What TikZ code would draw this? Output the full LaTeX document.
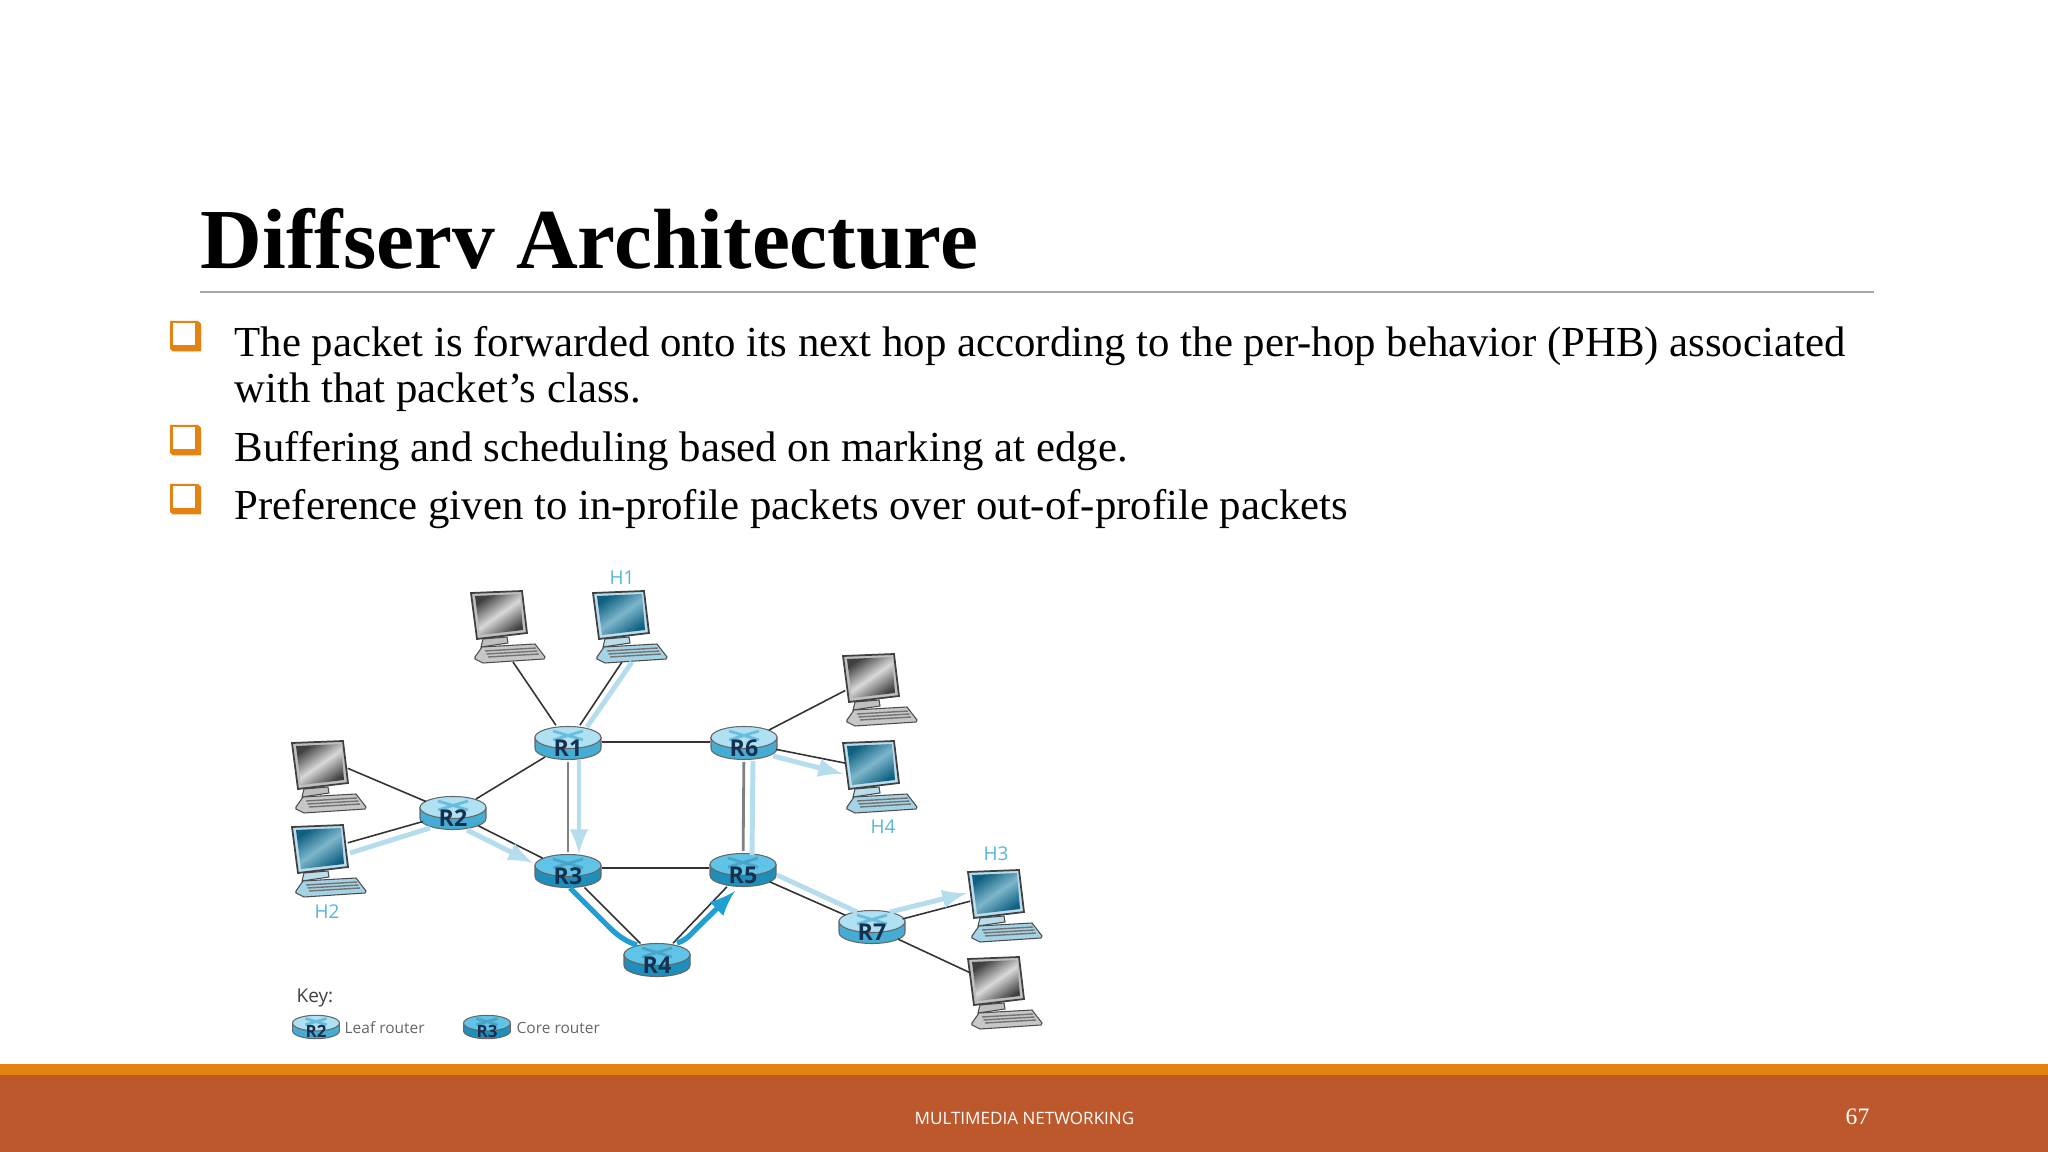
\documentclass[tikz,border=0pt]{standalone}
\usepackage{fontspec}
\setmainfont{Liberation Serif}
\newfontfamily\netfont{Open Sans}
\usetikzlibrary{positioning}
\usetikzlibrary{arrows,shapes}
\usetikzlibrary{calc}

\definecolor{barorange}{HTML}{E48312}
\definecolor{barrust}{HTML}{BD582C}
\definecolor{hostblue}{HTML}{55B4DC}
\definecolor{flowlight}{HTML}{B5DDEE}
\definecolor{flowdark}{HTML}{1F9FD3}
\definecolor{labelnavy}{HTML}{16304F}
\definecolor{leaftop}{HTML}{B0E1F3}
\definecolor{leafside}{HTML}{45ADD4}
\definecolor{coretop}{HTML}{5FC4E8}
\definecolor{coreside}{HTML}{1E8FBB}
\definecolor{bezblue}{HTML}{B9DDEC}
\definecolor{kbdblue}{HTML}{A5D3E6}
\definecolor{scrblue}{HTML}{0F5F80}
\definecolor{scrbluelt}{HTML}{7DB6CC}

\tikzset{
 body/.style={anchor=base west, inner sep=0pt, font=\fontsize{12.17}{14}\selectfont},
 link/.style={draw=black!80, line width=0.45pt},
 linkgray/.style={draw=black!50, line width=0.8pt},
 flow/.style={draw=flowlight, line width=1.4pt},
 flowcore/.style={draw=flowdark, line width=1.5pt},
 hostlabel/.style={inner sep=0pt, text=hostblue, font=\netfont\fontsize{5.4}{6}\selectfont},
 keytext/.style={anchor=base west, inner sep=0pt, text=black!60, font=\netfont\fontsize{4.4}{5}\selectfont},
 routerlabel/.style={ellipse, inner sep=0pt, text=labelnavy}
}

\begin{document}
\begin{tikzpicture}[x=0.01cm, y=-0.01cm]
 \useasboundingbox (0,0) rectangle (2048,1152);

 %title
 \node[body, font=\bfseries\fontsize{24.3}{28}\selectfont] (title) at (200,269) {Diffserv Architecture};
 \coordinate (ruleL) at (200,292);
 \coordinate (ruleR) at (1874,292);
 \draw[black!35, line width=0.5pt] (ruleL) -- (ruleR);

 %bullets
 \foreach \y in {321,425,484} {
   \fill[barorange] (170,\y) -- (198,\y) -- (201,\y+3) -- (201,\y+30.5) -- (173,\y+30.5) -- (170,\y+28) -- cycle;
   \fill[white] (172.5,\y+2.5) rectangle (195,\y+24.5);
 }
 \node[body] (line1) at (234,356.5) {The packet is forwarded onto its next hop according to the per-hop behavior (PHB) associated};
 \node[body] (line2) at (234,402.5) {with that packet’s class.};
 \node[body] (line3) at (234,461.5) {Buffering and scheduling based on marking at edge.};
 \node[body] (line4) at (234,519.5) {Preference given to in-profile packets over out-of-profile packets};

 %routers
 \foreach \name/\lab/\top/\side/\x/\y/\sc/\fs/\th in {
     R1/R1/leaftop/leafside/568/743/1/6.6/0.26, R2/R2/leaftop/leafside/453/813/1/6.6/0.26,
     R3/R3/coretop/coreside/568/871/1/6.6/0.26, R4/R4/coretop/coreside/657/960/1/6.6/0.26,
     R5/R5/coretop/coreside/743/870/1/6.6/0.26, R6/R6/leaftop/leafside/744/743/1/6.6/0.26,
     R7/R7/leaftop/leafside/872/927/1/6.6/0.26,
     keyR2/R2/leaftop/leafside/316/1027/0.71/4.8/0.2, keyR3/R3/coretop/coreside/487/1027/0.71/4.8/0.2} {
   \begin{scope}[shift={(\x,\y)}, scale=\sc]
     \shade[left color=\side, middle color=\top!60!white, right color=\side, draw=black!60, line width=0.3pt]
       (-33,-5.5) -- (-33,5.5) arc [start angle=180, end angle=0, x radius=33, y radius=11] -- (33,-5.5) -- cycle;
     \draw[fill=\top, draw=black!60, line width=0.3pt] (0,-5.5) ellipse [x radius=33, y radius=11];
     \draw[\side!80, line width=0.8pt] (-15,-12) -- (15,-3) (15,-12) -- (-15,-3);
   \end{scope}
   \node[routerlabel, minimum width=0.66*\sc cm, minimum height=0.34*\sc cm, text height=\th cm, text depth=0pt, font=\netfont\bfseries\fontsize{\fs}{7}\selectfont] (\name) at (\x,\y) {\lab};
 }

 %hosts
 \foreach \name/\x/\y/\bez/\kbd/\scra/\scrb in {
     C1/500/615/black!25/black!22/black!75/black!15,
     H1/622/615/bezblue/kbdblue/scrblue/scrbluelt,
     C2/321/765/black!25/black!22/black!75/black!15,
     H2/321/849/bezblue/kbdblue/scrblue/scrbluelt,
     C3/872/678/black!25/black!22/black!75/black!15,
     H4/872/765/bezblue/kbdblue/scrblue/scrbluelt,
     H3/997/894/bezblue/kbdblue/scrblue/scrbluelt,
     C4/997/981/black!25/black!22/black!75/black!15} {
   \begin{scope}[shift={(\x,\y)}]
     \draw[black!70, line width=0.3pt, fill=\bez] (-17,24) -- (7,22) -- (8,28) -- (-19,32) -- cycle;
     \draw[black!70, line width=0.3pt, fill=\kbd] (-18,32) -- (35,29) -- (45,42) -- (44,44) -- (-17,48) -- (-25,44) -- (-25,42) -- cycle;
     \foreach \k in {0,1,2} \draw[black!55, line width=0.4pt] (-15+\k*1.5,36+\k*3) -- (36+\k*1.5,33+\k*3);
     \draw[black!75, line width=0.5pt, fill=\bez] (-29,-22) -- (22,-24) -- (27,18) -- (-23,24) -- cycle;
     \shade[left color=\scra, right color=\scra, middle color=\scrb, shading angle=35]
       (-25,-19) -- (20,-21) -- (23,15) -- (-20,20) -- cycle;
   \end{scope}
   \node[minimum width=0.52cm, minimum height=0.44cm, inner sep=0pt] (\name) at (\x,\y) {};
 }
 \coordinate (C1kb) at (513,662);
 \coordinate (H1kb) at (622,662);
 \coordinate (H1flow) at (632,662);

 %links
 \draw[link] (C1kb) -- (R1);
 \draw[link] (H1kb) -- (R1);
 \draw[link] (C2.-7) -- (R2);
 \draw[link] (H2.13) -- (R2);
 \draw[link] (R2) -- (R1);
 \draw[link] (R2) -- (R3);
 \draw[link] ([shift={(0,-1)}]R1.east) -- ([shift={(0,-1)}]R6.west);
 \draw[link] ([shift={(0,-3)}]R3.east) -- ([shift={(0,-2)}]R5.west);
 \draw[linkgray] (R1) -- (R3);
 \draw[linkgray] (R6) -- (R5);
 \draw[link] (R3) -- (R4);
 \draw[link] (R4) -- (R5);
 \draw[link] (R5) -- (R7);
 \draw[link] (R6) -- (C3.205);
 \draw[link] (R6) -- (H4.176);
 \draw[link] (R7) -- (H3.195);
 \draw[link] (R7) -- (C4.163);

 %flow arrows
 \draw[flow] (H1flow) -- ([shift={(19,-16)}]R1.center);
 \draw[flow, -latex] ([shift={(11,17)}]R1.center) -- ([shift={(11,-17)}]R3.center);
 \draw[flow] ([shift={(29,4)}]H2.center) -- ([shift={(-23,15)}]R2.center);
 \draw[flow, -latex] ([shift={(14,17)}]R2.center) -- ([shift={(-35,-8)}]R3.center);
 \draw[flowcore] ([shift={(2,17)}]R3.center) -- ([shift={(42,57)}]R3.center)
    .. controls ([shift={(-37,-22)}]R4.center) and ([shift={(-27,-17)}]R4.center) .. ([shift={(-20,-15)}]R4.center);
 \draw[flowcore, -latex] ([shift={(20,-17)}]R4.center)
    .. controls ([shift={(30,-20)}]R4.center) and ([shift={(35,-27)}]R4.center) .. ([shift={(41,-33)}]R4.center)
    -- ([shift={(-8,21)}]R5.center);
 \draw[flow] ([shift={(9,-15)}]R5.center) -- ([shift={(9,18)}]R6.center);
 \draw[flow, -latex] ([shift={(29,13)}]R6.center) -- ([shift={(-29,9)}]H4.center);
 \draw[flow] ([shift={(34,5)}]R5.center) -- ([shift={(-15,-15)}]R7.center);
 \draw[flow, -latex] ([shift={(18,-15)}]R7.center) -- ([shift={(-30,-1)}]H3.center);

 %labels
 \node[hostlabel] (H1lab) at (622,578) {H1};
 \node[hostlabel] (H2lab) at (327,912) {H2};
 \node[hostlabel] (H4lab) at (883,827) {H4};
 \node[hostlabel] (H3lab) at (996,854) {H3};

 %key
 \node[keytext, text=black!75, font=\netfont\fontsize{5.4}{6}\selectfont] (key) at (296,1002) {Key:};
 \node[keytext] (keyleaf) at (344,1033) {Leaf router};
 \node[keytext] (keycore) at (516,1033) {Core router};

 %footer
 \fill[barrust] (0,1075) rectangle (2048,1152);
 \fill[barorange] (0,1064) rectangle (2048,1075);
 \node[anchor=base west, inner sep=0pt, text=white, font=\netfont\fontsize{4.85}{6}\selectfont] (foot) at (914,1124) {MULTIMEDIA NETWORKING};
 \node[anchor=base west, inner sep=0pt, text=white, font=\fontsize{6.7}{8}\selectfont] (page) at (1845,1124) {67};
\end{tikzpicture}
\end{document}
